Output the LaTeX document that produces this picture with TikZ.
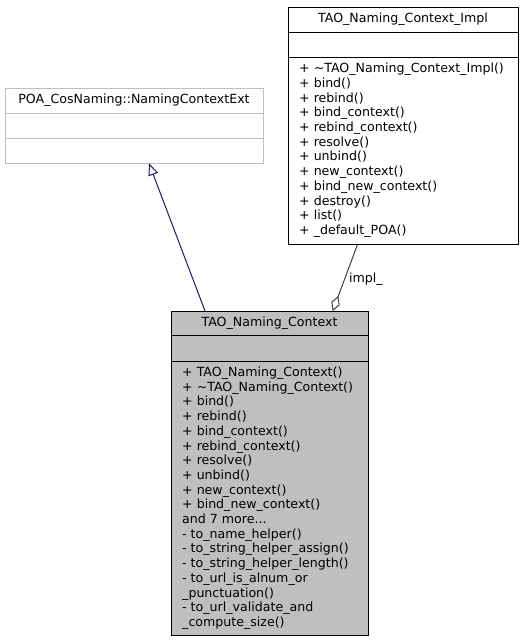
\documentclass[tikz,border=0pt]{standalone}
\usepackage{fontspec}
\setmainfont{DejaVu Sans}
\usetikzlibrary{arrows.meta}
\definecolor{grayseventyfive}{HTML}{BFBFBF}
\definecolor{edgegray}{HTML}{404040}
\definecolor{navyedge}{HTML}{191970}
\newcommand\mythreedots{...}
\tikzset{
  boxfont/.style={font=\fontsize{12.6}{14.7}\selectfont},
  memb/.style={boxfont, inner sep=0pt, anchor=base west},
  ttl/.style={boxfont, inner sep=0pt, anchor=base},
  frame/.style={line width=1pt},
}
\begin{document}
\begin{tikzpicture}[x=1pt,y=-1pt]
\useasboundingbox[fill=white] (0,0) rectangle (524,643);

% POA_CosNaming::NamingContextExt
\draw[frame, draw=grayseventyfive] (5,88) rectangle (263,163);
\draw[frame, draw=grayseventyfive] (5,113) -- (263,113) (5,138) -- (263,138);
\node[ttl] (poa) at (134,103.7) {POA\_CosNaming::NamingContextExt};

% TAO_Naming_Context_Impl
\draw[frame] (288,7) rectangle (518,244);
\draw[frame] (288,32) -- (518,32) (288,57) -- (518,57);
\node[ttl] (impl) at (403,22.7) {TAO\_Naming\_Context\_Impl};
\foreach \t [count=\i] in {%
  {+ \textasciitilde TAO\_Naming\_Context\_Impl()},
  {+ bind()},
  {+ rebind()},
  {+ bind\_context()},
  {+ rebind\_context()},
  {+ resolve()},
  {+ unbind()},
  {+ new\_context()},
  {+ bind\_new\_context()},
  {+ destroy()},
  {+ list()},
  {+ \_default\_POA()}}
  \node[memb] (im\i) at (299,{72.7+(\i-1)*14.7}) {\t};

% TAO_Naming_Context
\draw[frame, fill=grayseventyfive] (171,311) rectangle (368,635);
\draw[frame] (171,335) -- (368,335) (171,361) -- (368,361);
\node[ttl] (tao) at (269.5,326.7) {TAO\_Naming\_Context};
\foreach \t [count=\i] in {%
  {+ TAO\_Naming\_Context()},
  {+ \textasciitilde TAO\_Naming\_Context()},
  {+ bind()},
  {+ rebind()},
  {+ bind\_context()},
  {+ rebind\_context()},
  {+ resolve()},
  {+ unbind()},
  {+ new\_context()},
  {+ bind\_new\_context()},
  {and 7 more\mythreedots},
  {- to\_name\_helper()},
  {- to\_string\_helper\_assign()},
  {- to\_string\_helper\_length()},
  {- to\_url\_is\_alnum\_or},
  {\_punctuation()},
  {- to\_url\_validate\_and},
  {\_compute\_size()}}
  \node[memb] (tm\i) at (182,{376.5+(\i-1)*14.7}) {\t};

% connectors
\coordinate (inhS) at (205,311);
\coordinate (inhE) at (149,163.3);
\draw[line width=1pt, navyedge, -{Triangle[open, length=12pt, width=10pt]}] (inhS) -- (inhE);

\coordinate (aggS) at (357.7,244);
\coordinate (aggE) at (332.7,311);
\draw[line width=1pt, edgegray, -{Diamond[open, length=16pt, width=9pt]}] (aggS) -- (aggE);
\node[memb] (lbl) at (349,282.3) {impl\_};
\end{tikzpicture}
\end{document}
